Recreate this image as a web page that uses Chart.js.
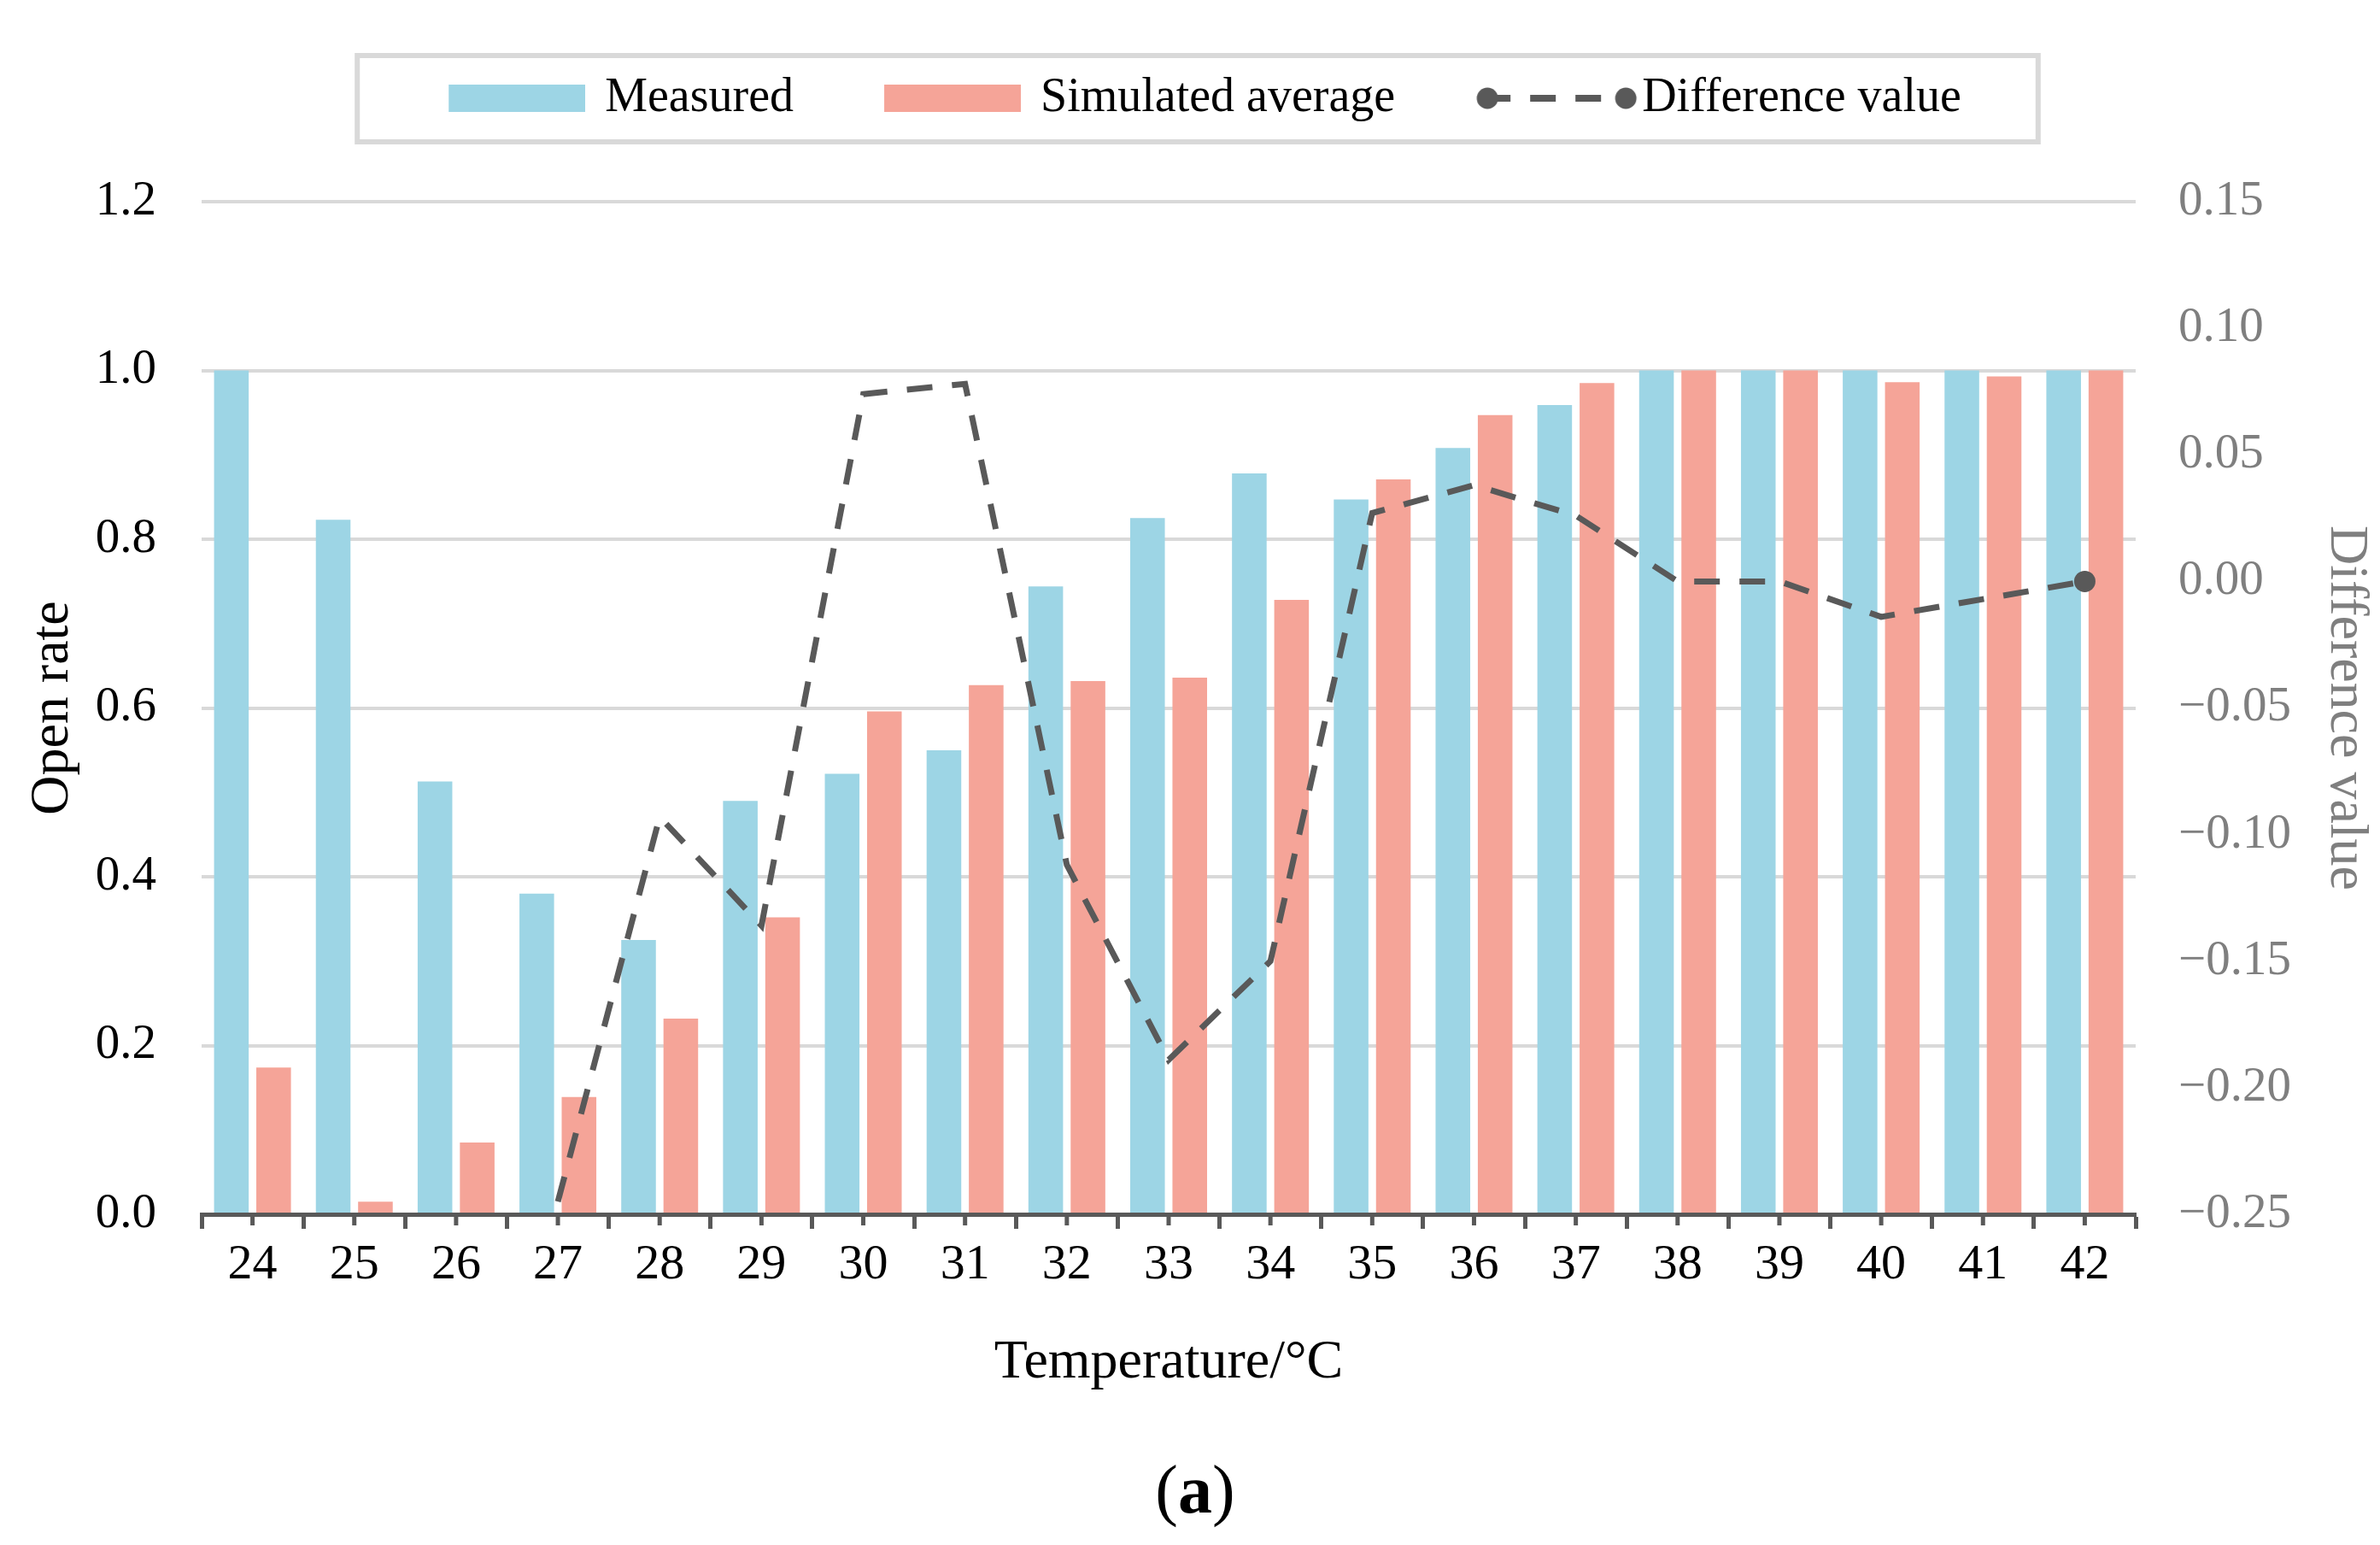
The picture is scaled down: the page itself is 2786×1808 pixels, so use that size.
<!DOCTYPE html>
<html>
<head>
<meta charset="utf-8">
<title>Open rate vs temperature</title>
<script src="https://cdn.jsdelivr.net/npm/chart.js@4.4.1/dist/chart.umd.min.js"></script>
<style>
  html, body { margin: 0; padding: 0; background: #fff; }
  #wrap { position: relative; width: 2786px; height: 1808px; overflow: hidden; }
  #chart { display: block; }
  #caption {
    position: absolute; left: 6px; top: 1703px; width: 2786px;
    text-align: center; color: #000;
    font-family: 'Liberation Serif', 'Times New Roman', serif;
    font-size: 80px; line-height: 80px;
  }
</style>
</head>
<body>
<div id="wrap">
  <canvas id="chart" width="2786" height="1808"></canvas>
  <div id="caption">(<b>a</b>)</div>
</div>
<script>
// data
const temperatures = ['24', '25', '26', '27', '28', '29', '30', '31', '32', '33',
                      '34', '35', '36', '37', '38', '39', '40', '41', '42'];
const measured = [1.000, 0.823, 0.513, 0.380, 0.325, 0.490, 0.522, 0.550, 0.744, 0.825,
                  0.878, 0.847, 0.908, 0.959, 1.000, 1.000, 1.000, 1.000, 1.000];
const simulatedAverage = [0.174, 0.015, 0.085, 0.139, 0.232, 0.352, 0.596, 0.627, 0.632, 0.636,
                          0.728, 0.871, 0.947, 0.985, 1.000, 1.000, 0.986, 0.993, 1.000];
// the line is only visible from 27 °C on (earlier values fall below the axis)
const differenceValue = [null, null, null, -0.245, -0.093, -0.136, 0.074, 0.078, -0.112, -0.189,
                         -0.150, 0.027, 0.038, 0.026, 0.000, 0.000, -0.014, -0.007, 0.000];

const openRateRange = [0, 1.2, 0.2];        // min, max, step
const differenceRange = [-0.25, 0.15, 0.05];

const BLUE = '#9DD5E5';
const SALMON = '#F5A498';
const DARK = '#595959';
const GRID = '#D9D9D9';
const GREY_TEXT = '#7F7F7F';
const FONT = "'Liberation Serif', 'Times New Roman', serif";

const W = 2786, H = 1808;
const PLOT_LEFT = 236, PLOT_RIGHT = 2500, PLOT_BOTTOM = 1421;

Chart.defaults.font.family = FONT;

// legend swatches (drawn as images so the line entry can show dots + dashes)
function boxSwatch(color) {
  const c = document.createElement('canvas');
  c.width = 200; c.height = 32;
  const g = c.getContext('2d');
  g.fillStyle = color;
  g.fillRect(40, 0, 160, 32);
  return c;
}
function lineSwatch() {
  const c = document.createElement('canvas');
  c.width = 240; c.height = 30;
  const g = c.getContext('2d');
  g.strokeStyle = DARK;
  g.lineWidth = 8;
  g.setLineDash([30, 23]);
  g.beginPath(); g.moveTo(59, 15); g.lineTo(224, 15); g.stroke();
  g.fillStyle = DARK;
  [62, 224].forEach(x => { g.beginPath(); g.arc(x, 15, 12.5, 0, Math.PI * 2); g.fill(); });
  return c;
}
const swatches = [lineSwatch(), boxSwatch(BLUE), boxSwatch(SALMON)];
const legendOrder = [1, 2, 0];

// push the plot down below the legend
const legendGap = {
  id: 'legendGap',
  beforeInit(chart) {
    const fit = chart.legend.fit;
    chart.legend.fit = function () {
      fit.call(this);
      this.height += 83;
    };
  }
};

// grey frame round the legend
const legendFrame = {
  id: 'legendFrame',
  afterDraw(chart) {
    const boxes = chart.legend.legendHitBoxes;
    if (!boxes || !boxes.length) return;
    const first = boxes[0], last = boxes[boxes.length - 1];
    const midY = first.top + first.height / 2;
    const left = first.left - 72, right = last.left + last.width + 90;
    const ctx = chart.ctx;
    ctx.save();
    ctx.strokeStyle = GRID;
    ctx.lineWidth = 6;
    ctx.strokeRect(left, midY - 50, right - left, 101);
    ctx.restore();
  }
};

// short tick marks under each category centre
const midTicks = {
  id: 'midTicks',
  afterDraw(chart) {
    const x = chart.scales.x, ctx = chart.ctx;
    ctx.save();
    ctx.strokeStyle = DARK;
    ctx.lineWidth = 5;
    ctx.beginPath();
    temperatures.forEach((t, i) => {
      const px = x.getPixelForValue(i);
      ctx.moveTo(px, x.top);
      ctx.lineTo(px, x.top + 13);
    });
    ctx.stroke();
    ctx.restore();
  }
};

new Chart(document.getElementById('chart'), {
  data: {
    labels: temperatures,
    datasets: [
      {
        type: 'line',
        label: 'Difference value',
        data: differenceValue,
        yAxisID: 'y1',
        borderColor: DARK,
        borderWidth: 7,
        borderDash: [30, 23],
        tension: 0,
        fill: false,
        spanGaps: false,
        pointRadius: ctx => (ctx.dataIndex === differenceValue.length - 1 ? 12.5 : 0),
        pointHoverRadius: ctx => (ctx.dataIndex === differenceValue.length - 1 ? 12.5 : 0),
        pointBackgroundColor: DARK,
        pointBorderWidth: 0,
        order: 0
      },
      {
        type: 'bar',
        label: 'Measured',
        data: measured,
        yAxisID: 'y',
        backgroundColor: BLUE,
        borderWidth: 0,
        barPercentage: 0.82,
        categoryPercentage: 0.83,
        order: 1
      },
      {
        type: 'bar',
        label: 'Simulated average',
        data: simulatedAverage,
        yAxisID: 'y',
        backgroundColor: SALMON,
        borderWidth: 0,
        barPercentage: 0.82,
        categoryPercentage: 0.83,
        order: 2
      }
    ]
  },
  options: {
    responsive: false,
    devicePixelRatio: 1,
    animation: false,
    layout: { padding: { top: 16, left: 0, right: 0, bottom: 0 } },
    plugins: {
      tooltip: { enabled: false },
      title: { display: false },
      legend: {
        position: 'top',
        labels: {
          usePointStyle: true,
          pointStyleWidth: 190,
          padding: 71,
          color: '#000',
          font: { family: FONT, size: 56 },
          generateLabels: chart => legendOrder.map(i => ({
            text: chart.data.datasets[i].label,
            pointStyle: swatches[i],
            fillStyle: 'rgba(0,0,0,0)',
            strokeStyle: 'rgba(0,0,0,0)',
            lineWidth: 0,
            fontColor: '#000',
            hidden: false,
            datasetIndex: i
          }))
        }
      }
    },
    scales: {
      x: {
        offset: true,
        grid: {
          offset: true,
          drawOnChartArea: false,
          drawTicks: true,
          tickLength: 17,
          tickWidth: 5,
          tickColor: DARK
        },
        border: { display: true, color: DARK, width: 5 },
        ticks: {
          color: '#000',
          font: { family: FONT, size: 58 },
          padding: 8,
          maxRotation: 0,
          autoSkip: false
        },
        title: {
          display: true,
          text: 'Temperature/°C',
          color: '#000',
          font: { family: FONT, size: 64 },
          padding: { top: 0, bottom: 174 }
        },
        afterFit(scale) { scale.height = H - PLOT_BOTTOM; }
      },
      y: {
        position: 'left',
        min: openRateRange[0],
        max: openRateRange[1],
        ticks: {
          stepSize: openRateRange[2],
          color: '#000',
          font: { family: FONT, size: 57 },
          padding: 53,
          callback: v => Number(v).toFixed(1)
        },
        grid: { color: GRID, lineWidth: 4, drawTicks: false },
        border: { display: false },
        title: {
          display: true,
          text: 'Open rate',
          color: '#000',
          font: { family: FONT, size: 64 },
          padding: { top: 24, bottom: 0 }
        },
        afterFit(scale) { scale.width = PLOT_LEFT; }
      },
      y1: {
        position: 'right',
        min: differenceRange[0],
        max: differenceRange[1],
        ticks: {
          stepSize: differenceRange[2],
          color: GREY_TEXT,
          font: { family: FONT, size: 57 },
          padding: 50,
          callback: v => (v < -1e-9 ? '\u2212' : '') + Math.abs(v).toFixed(2)
        },
        grid: { drawOnChartArea: false, drawTicks: false },
        border: { display: false },
        title: {
          display: true,
          text: 'Difference value',
          color: GREY_TEXT,
          font: { family: FONT, size: 64 },
          padding: { top: 2, bottom: 0 }
        },
        afterFit(scale) { scale.width = W - PLOT_RIGHT; }
      }
    }
  },
  plugins: [legendGap, legendFrame, midTicks]
});
</script>
</body>
</html>
